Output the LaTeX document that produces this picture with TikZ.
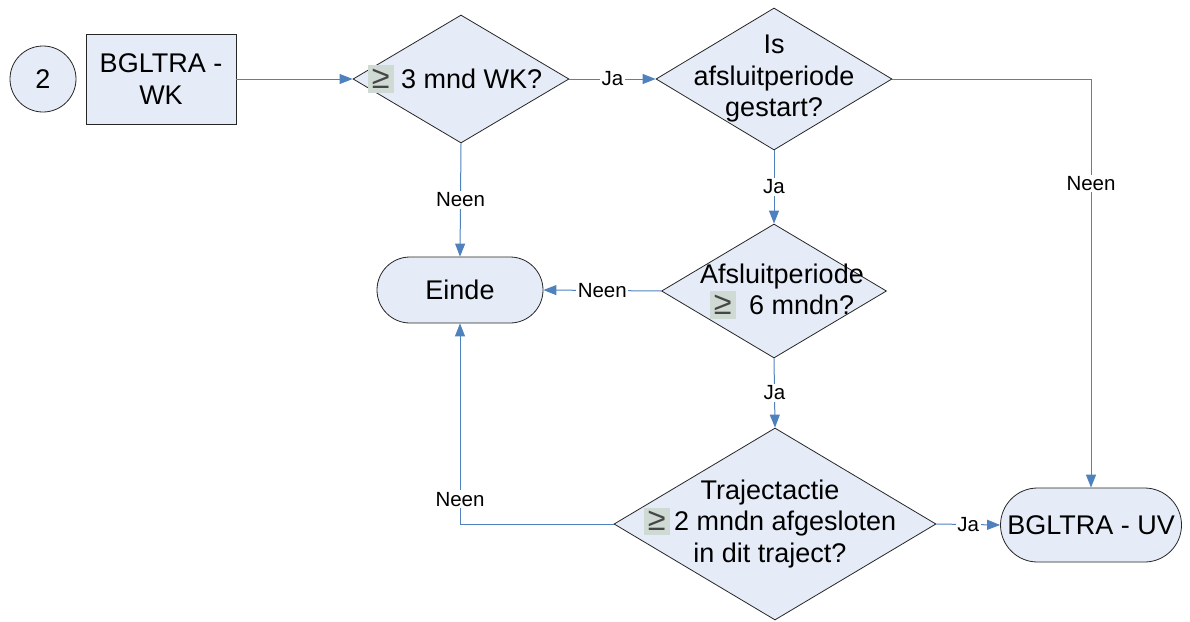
\documentclass[tikz,border=0pt]{standalone}
\usepackage{fontspec}
\setmainfont{Liberation Sans}
\usetikzlibrary{
	shapes.geometric,
	arrows.meta
}
\definecolor{shapefill}{RGB}{230,236,247}
\definecolor{flowblue}{RGB}{79,129,189}
\definecolor{geqshade}{RGB}{208,218,212}
\newcommand{\geqbox}{{\setlength{\fboxsep}{4pt}\colorbox{geqshade}{\textcolor[RGB]{70,70,70}{\scalebox{1.2}{≥}}}}}
\tikzset{
	box/.style={
		draw=black!85,
		fill=shapefill,
		line width=0.8pt
	},
	decision/.style={
		box,
		diamond,
		inner sep=0pt
	},
	bigtext/.style={
		font=\fontsize{27}{31.5}\selectfont,
		align=center,
		inner sep=0pt
	},
	flow/.style={
		draw=flowblue,
		line width=1pt,
		-{Triangle[length=13pt,width=10pt]}
	},
	answer/.style={
		font=\fontsize{20.5}{23}\selectfont,
		fill=white,
		inner sep=1.5pt
	}
}

\begin{document}
\begin{tikzpicture}[x=1pt,y=-1pt]
	\useasboundingbox (0,0) rectangle (1190,621);
	% start
	\node[box, circle, minimum size=66pt, bigtext] (start) at (43,79) {2};
	\node[box, minimum width=150pt, minimum height=90pt, bigtext] (wk) at (161,79) {BGLTRA -\\WK};
	% questions
	\node[decision, minimum width=216pt, minimum height=128pt] (q1) at (461,79) {};
	\node[bigtext] (q1t) at (455,79) {\geqbox\ 3 mnd WK?};
	\node[decision, minimum width=236pt, minimum height=142pt] (q2) at (774,79) {};
	\node[bigtext] (q2t) at (774,79) {Is\\afsluitperiode\\gestart?};
	\node[decision, minimum width=225pt, minimum height=134pt] (q3) at (774,291) {};
	\node[bigtext] (q3t) at (782,291) {Afsluitperiode\\\geqbox\enspace 6 mndn?};
	\node[decision, minimum width=322pt, minimum height=192pt] (q4) at (775,524) {};
	\node[bigtext] (q4t) at (770,524) {Trajectactie\\\geqbox\,2 mndn afgesloten\\in dit traject?};
	% ends
	\node[box, rounded corners=33pt, minimum width=166pt, minimum height=66pt, bigtext] (einde) at (460,290) {Einde};
	\node[box, rounded corners=37pt, minimum width=181pt, minimum height=74pt, bigtext] (uv) at (1091,525) {BGLTRA - UV};
	% connectors
	\draw[flow] (wk.east) -- (q1.west);
	\draw[flow] (q1.east) -- node[answer] {Ja} (q2.west);
	\draw[flow] (q1.south) -- node[answer] {Neen} (einde.north);
	\draw[flow] (q2.east) -| node[answer, pos=0.628] {Neen} (uv.north);
	\draw[flow] (q2.south) -- node[answer] {Ja} (q3.north);
	\draw[flow] (q3.west) -- node[answer] {Neen} (einde.east);
	\draw[flow] (q3.south) -- node[answer] {Ja} (q4.north);
	\draw[flow] (q4.west) -| node[answer, pos=0.562] {Neen} (einde.south);
	\draw[flow] (q4.east) -- node[answer] {Ja} (uv.west);
\end{tikzpicture}
\end{document}
